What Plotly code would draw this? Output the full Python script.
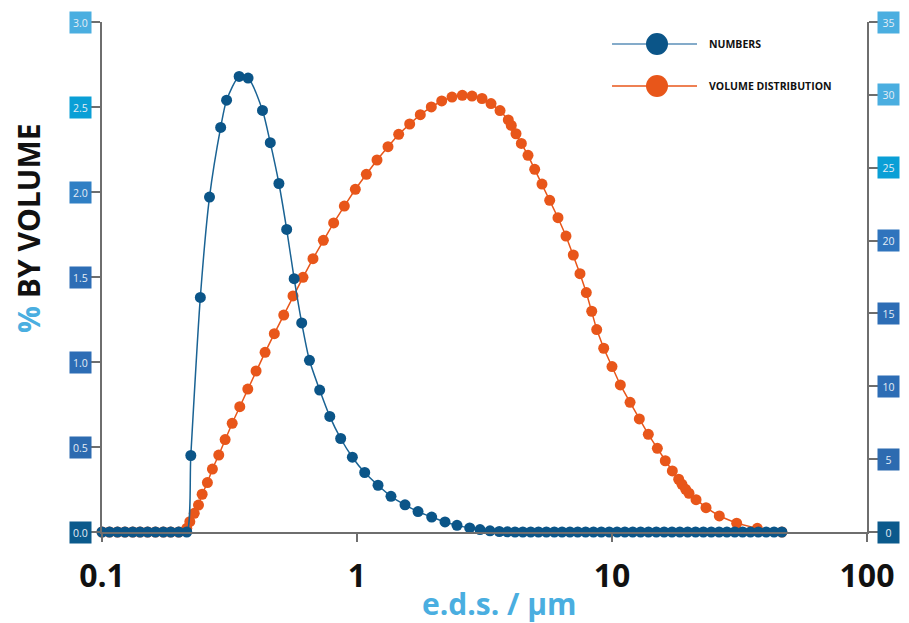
import plotly.graph_objects as go

# ---------------- data ----------------
size_um_numbers = [0.1, 0.107, 0.115, 0.123, 0.132, 0.141, 0.151, 0.162, 0.174, 0.186, 0.200, 0.215,
                   0.223, 0.243, 0.264, 0.292, 0.308, 0.345, 0.374, 0.426, 0.457, 0.494, 0.530, 0.567,
                   0.607, 0.651, 0.714, 0.782, 0.863, 0.959, 1.072, 1.209, 1.359, 1.543, 1.735, 1.963,
                   2.214, 2.467, 2.767, 3.037, 3.323, 3.614, 3.886, 4.166,
                   4.47, 4.80, 5.15, 5.53, 5.94, 6.37, 6.84, 7.34, 7.88, 8.46, 9.08, 9.75, 10.47, 11.23,
                   12.06, 12.95, 13.90, 14.92, 16.01, 17.19, 18.45, 19.81, 21.27, 22.82, 24.50, 26.30,
                   28.23, 30.31, 32.53, 34.92, 37.49, 40.24, 43.20, 46.37]
numbers_pct = [0, 0, 0, 0, 0, 0, 0, 0, 0, 0, 0, 0,
               0.45, 1.38, 1.97, 2.38, 2.54, 2.68, 2.67, 2.48, 2.29, 2.05, 1.78, 1.49,
               1.23, 1.01, 0.835, 0.68, 0.55, 0.44, 0.35, 0.275, 0.21, 0.16, 0.12, 0.088,
               0.059, 0.039, 0.024, 0.014, 0.007, 0.003, 0.001, 0,
               0, 0, 0, 0, 0, 0, 0, 0, 0, 0, 0, 0, 0, 0,
               0, 0, 0, 0, 0, 0, 0, 0, 0, 0, 0, 0,
               0, 0, 0, 0, 0, 0, 0, 0]

size_um_volume = [0.1, 0.107, 0.115, 0.123, 0.132, 0.141, 0.151, 0.162, 0.174, 0.186, 0.200,
                  0.215, 0.221, 0.230, 0.239, 0.247, 0.259, 0.271, 0.287, 0.304, 0.324, 0.347,
                  0.373, 0.402, 0.436, 0.474, 0.516, 0.561, 0.614, 0.672, 0.738, 0.810, 0.892,
                  0.985, 1.088, 1.198, 1.323, 1.457, 1.609, 1.771, 1.956, 2.149, 2.358, 2.588,
                  2.825, 3.092, 3.354, 3.638, 3.920, 4.028, 4.203, 4.410, 4.684, 4.976, 5.314,
                  5.697, 6.140, 6.600, 7.050, 7.489, 7.930, 8.327, 8.710, 9.279, 10.0, 10.78,
                  11.77, 12.80, 13.88, 15.06, 16.18, 17.24, 18.26, 18.81, 19.45, 20.04, 21.36,
                  23.37, 26.35, 30.83, 37.14, 46.37]
volume_pct = [0, 0, 0, 0, 0, 0, 0, 0, 0, 0, 0,
              0.25, 0.71, 1.28, 1.85, 2.59, 3.39, 4.32, 5.28, 6.34, 7.46, 8.60,
              9.81, 11.05, 12.33, 13.61, 14.89, 16.20, 17.48, 18.76, 20.02, 21.21, 22.37,
              23.52, 24.55, 25.53, 26.44, 27.29, 28.00, 28.64, 29.17, 29.58, 29.85, 29.97,
              29.92, 29.75, 29.40, 28.92, 28.28, 27.90, 27.33, 26.67, 25.85, 24.89, 23.88,
              22.76, 21.57, 20.31, 19.01, 17.73, 16.43, 15.15, 13.89, 12.61, 11.35, 10.09,
              8.90, 7.76, 6.70, 5.74, 4.89, 4.19, 3.62, 3.27, 2.93, 2.66, 2.22,
              1.67, 1.10, 0.60, 0.25, 0]

x_tickvals = [0.1, 1, 10, 100]
x_ticktext = ["0.1", "1", "10", "100"]
left_ticks = [0.0, 0.5, 1.0, 1.5, 2.0, 2.5, 3.0]
left_ticktext = ["0.0", "0.5", "1.0", "1.5", "2.0", "2.5", "3.0"]
right_ticks = [0, 5, 10, 15, 20, 25, 30, 35]
right_ticktext = ["0", "5", "10", "15", "20", "25", "30", "35"]
series_names = ["NUMBERS", "VOLUME DISTRIBUTION"]

# ---------------- styling ----------------
BLUE = "#0b5588"
BLUE_LINE = "#1a6394"
ORANGE = "#e8561a"
LIGHT = "#4aaee0"
AX = "#6e6e6e"
FONT = "Open Sans"

left_box_colors = ["#0b5a8c", "#2d6bb0", "#2d6db5", "#2d6db5", "#2f7fc4", "#0a9fd6", "#4aaee0"]
right_box_colors = ["#0b5a8c", "#2d6bb0", "#2d6db5", "#2d6db5", "#2f74bd", "#0a9fd6", "#4aaee0", "#4aaee0"]

fig = go.Figure()

fig.add_trace(go.Scatter(
    x=size_um_volume, y=volume_pct, yaxis="y", name=series_names[1],
    mode="lines+markers", cliponaxis=False,
    line=dict(color=ORANGE, width=1.5),
    marker=dict(size=11, color=ORANGE),
    showlegend=False))

fig.add_trace(go.Scatter(
    x=size_um_numbers, y=numbers_pct, yaxis="y2", name=series_names[0],
    mode="lines+markers", cliponaxis=False,
    line=dict(color=BLUE_LINE, width=1.5, shape="spline", smoothing=0.7),
    marker=dict(size=11, color=BLUE),
    showlegend=False))

annotations = []
for v, t, c in zip(left_ticks, left_ticktext, left_box_colors):
    annotations.append(dict(xref="paper", yref="y2", x=-0.0281, y=v, xanchor="center", yanchor="middle",
                            text=t, showarrow=False, bgcolor=c, width=19, height=19, borderpad=1,
                            font=dict(family=FONT, size=10.5, color="#e4edf6")))
for v, t, c in zip(right_ticks, right_ticktext, right_box_colors):
    annotations.append(dict(xref="paper", yref="y", x=1.0281, y=v, xanchor="center", yanchor="middle",
                            text=t, showarrow=False, bgcolor=c, width=19, height=19, borderpad=1,
                            font=dict(family=FONT, size=10.5, color="#e4edf6")))

# axis titles
annotations.append(dict(xref="paper", yref="paper", x=0.52, y=-0.14, xanchor="center", yanchor="middle",
                        text="e.d.s. / µm", showarrow=False,
                        font=dict(family=FONT, size=30, color=LIGHT, weight=700)))
annotations.append(dict(xref="paper", yref="paper", x=-0.0967, y=0.596, xanchor="center", yanchor="middle",
                        text='<span style="color:%s">%%</span> BY VOLUME' % LIGHT, textangle=-90,
                        showarrow=False, font=dict(family=FONT, size=30, color="#111111", weight=700)))

# legend (drawn manually to match the long line / big marker style)
shapes = []
legend_rows = [(0.9569, "#5b8fb8", BLUE, series_names[0]), (0.8745, ORANGE, ORANGE, series_names[1])]
for yp, lc, mc, name in legend_rows:
    shapes.append(dict(type="line", xref="paper", yref="paper", x0=0.6667, x1=0.7778, y0=yp, y1=yp,
                       line=dict(color=lc, width=1.5)))
    shapes.append(dict(type="circle", xref="paper", yref="paper", xsizemode="pixel", ysizemode="pixel",
                       xanchor=0.7255, yanchor=yp, x0=-11, x1=11, y0=-11, y1=11,
                       fillcolor=mc, line=dict(color=mc, width=0)))
    annotations.append(dict(xref="paper", yref="paper", x=0.7902, y=yp, xanchor="left", yanchor="middle",
                            text=name, showarrow=False,
                            font=dict(family=FONT, size=10.5, color="#111111", weight=700)))

# the page body adds an 8px offset, so the figure is sized/margined to compensate
fig.update_layout(
    width=901, height=615,
    margin=dict(l=94, r=42, t=14, b=91),
    paper_bgcolor="white", plot_bgcolor="white",
    showlegend=False,
    xaxis=dict(type="log", range=[-1, 2], tickvals=x_tickvals, ticktext=x_ticktext,
               ticks="outside", ticklen=8, tickwidth=1.5, tickcolor=AX,
               showline=True, linecolor=AX, linewidth=1.5,
               showgrid=False, zeroline=False, ticklabelstandoff=7,
               tickfont=dict(family=FONT, size=32, color="#111111", weight=700)),
    yaxis=dict(range=[0, 35], side="right", tickvals=right_ticks, showticklabels=False,
               ticks="outside", ticklen=11, tickwidth=1.5, tickcolor=AX,
               showline=True, linecolor=AX, linewidth=1.5,
               showgrid=False, zeroline=False),
    yaxis2=dict(range=[0, 3], side="left", overlaying="y", tickvals=left_ticks, showticklabels=False,
                ticks="outside", ticklen=10, tickwidth=1.5, tickcolor=AX,
                showline=True, linecolor=AX, linewidth=1.5,
                showgrid=False, zeroline=False),
    annotations=annotations,
    shapes=shapes,
)

fig.write_html("out.html")
